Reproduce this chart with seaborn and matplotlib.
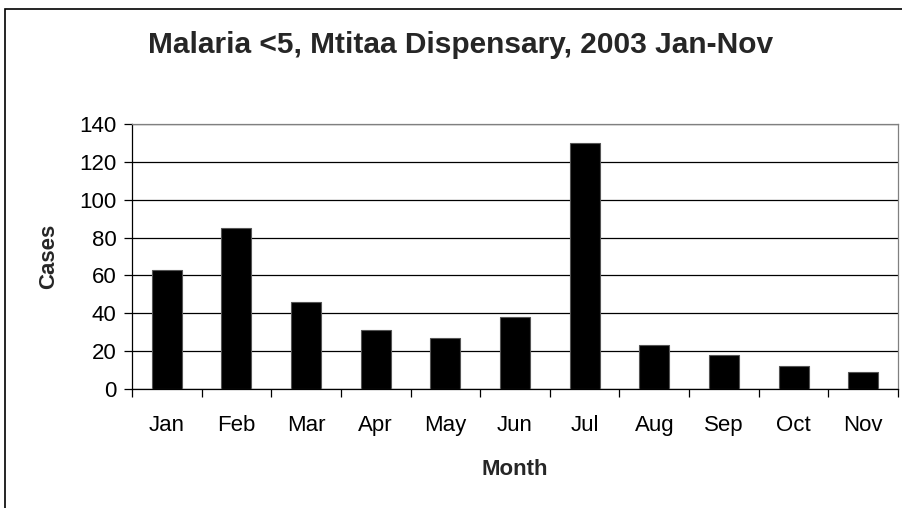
import matplotlib
matplotlib.use('Agg')
import matplotlib.pyplot as plt
from matplotlib.patches import Rectangle
import pandas as pd
import seaborn as sns

# --- data ---
months = ['Jan', 'Feb', 'Mar', 'Apr', 'May', 'Jun', 'Jul', 'Aug', 'Sep', 'Oct', 'Nov']
cases = [63, 85, 46, 31, 27, 38, 130, 23, 18, 12, 9]
y_ticks = [0, 20, 40, 60, 80, 100, 120, 140]

df = pd.DataFrame({'Month': months, 'Cases': cases})

# --- style ---
sns.set_style('white')
plt.rcParams['font.family'] = ['Liberation Sans', 'DejaVu Sans']

W, H = 903, 508
fig = plt.figure(figsize=(W / 100, H / 100), dpi=100)
fig.patch.set_facecolor('white')

# plot area in pixel terms
left, right, top, bottom = 132, 898, 124, 389
ax = fig.add_axes([left / W, 1 - bottom / H, (right - left) / W, (bottom - top) / H])

sns.barplot(data=df, x='Month', y='Cases', color='black', width=0.43,
            edgecolor='#555555', linewidth=0.8, saturation=1, ax=ax, zorder=3)

ax.set_xlim(-0.5, len(months) - 0.5)
ax.set_ylim(0, 140)
ax.set_yticks(y_ticks)
ax.yaxis.grid(True, color='black', linewidth=0.9, zorder=0)
ax.set_axisbelow(True)

# category ticks at boundaries, labels centred
ax.set_xticks(range(len(months)))
ax.set_xticklabels(months)
ax.set_xticks([i - 0.5 for i in range(len(months) + 1)], minor=True)
ax.tick_params(axis='x', which='major', length=0, pad=19, labelsize=16, colors='black')
ax.tick_params(axis='x', which='minor', length=6, width=0.9, direction='out',
               color='black', bottom=True)
ax.tick_params(axis='y', length=6, width=0.9, direction='out', left=True,
               labelsize=16, pad=5, colors='black')

for s in ['left', 'bottom']:
    ax.spines[s].set_color('black')
    ax.spines[s].set_linewidth(0.9)
for s in ['top', 'right']:
    ax.spines[s].set_color('#808080')
    ax.spines[s].set_linewidth(0.9)

ax.set_xlabel('Month', fontsize=16, fontweight='bold', labelpad=16)
ax.set_ylabel('Cases', fontsize=16, fontweight='bold', labelpad=15)

fig.text(461 / W, 1 - 45 / H, 'Malaria <5, Mtitaa Dispensary, 2003 Jan-Nov',
         ha='center', va='center', fontsize=21.5, fontweight='bold')

# chart area border (extends past right and bottom edges)
fig.patches.append(Rectangle((5 / W, -0.1), 1.2, 1.1 - 9 / H,
                             transform=fig.transFigure, fill=False,
                             edgecolor='black', linewidth=1.2))

fig.savefig('out.png', dpi=100, facecolor='white')
